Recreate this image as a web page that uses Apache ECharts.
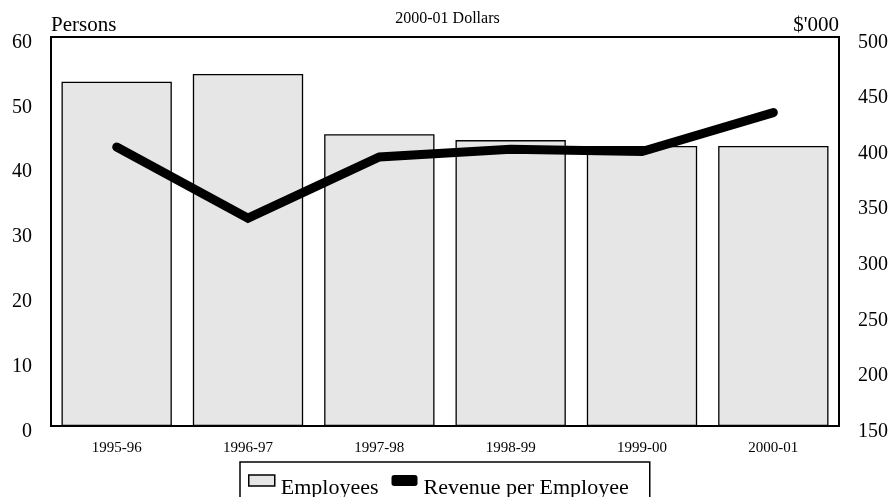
<!DOCTYPE html>
<html>
<head>
<meta charset="utf-8">
<script src="https://cdn.jsdelivr.net/npm/echarts@6/dist/echarts.min.js"></script>
<style>html,body{margin:0;padding:0;background:#fff}#c{width:895px;height:497px}</style>
</head>
<body>
<div id="c"></div>
<script>
const categories = ['1995-96','1996-97','1997-98','1998-99','1999-00','2000-01'];
const employees = [53.1, 54.3, 45.0, 44.1, 43.2, 43.2];
const revenuePerEmployee = [401, 337, 392, 399, 397, 432];
const leftTicks = {min: 0, max: 60, interval: 10};
const rightTicks = {min: 150, max: 500, interval: 50};

const serif = '"Liberation Serif", "Times New Roman", serif';
const chart = echarts.init(document.getElementById('c'));
chart.setOption({
  animation: false,
  backgroundColor: '#fff',
  title: {
    text: '2000-01 Dollars', left: 'center', top: 6,
    textStyle: {fontFamily: serif, fontSize: 16, fontWeight: 'normal', color: '#000'}
  },
  grid: {left: 51, right: 56, top: 37, bottom: 71, show: true, borderColor: '#000', borderWidth: 2, backgroundColor: 'transparent'},
  legend: {
    left: 240, top: 462, orient: 'horizontal',
    padding: [0, 21, 20, 8],
    borderColor: '#000', borderWidth: 1.5,
    itemWidth: 26, itemHeight: 11, itemGap: 13,
    formatter: '{t|{name}}',
    textStyle: {
      fontFamily: serif, fontSize: 22, color: '#000',
      rich: {t: {fontFamily: serif, fontSize: 22, color: '#000', lineHeight: 10, padding: [15, 0, 0, 1]}}
    },
    data: [
      {name: 'Employees', icon: 'rect', itemStyle: {color: '#e6e6e6', borderColor: '#000', borderWidth: 1.5}},
      {name: 'Revenue per Employee', icon: 'roundRect', itemStyle: {color: '#000', borderColor: '#000', borderWidth: 0}}
    ]
  },
  xAxis: {
    type: 'category', data: categories,
    axisLine: {lineStyle: {color: '#000', width: 2}},
    axisTick: {show: false},
    axisLabel: {fontFamily: serif, fontSize: 15, color: '#000', margin: 15}
  },
  yAxis: [
    {
      type: 'value', min: leftTicks.min, max: leftTicks.max, interval: leftTicks.interval,
      name: 'Persons', nameLocation: 'end', nameGap: 1,
      nameTextStyle: {fontFamily: serif, fontSize: 21, color: '#000', align: 'left', verticalAlign: 'bottom'},
      axisLine: {show: true, lineStyle: {color: '#000', width: 2}},
      axisTick: {show: false}, splitLine: {show: false},
      axisLabel: {fontFamily: serif, fontSize: 20, color: '#000', margin: 19, verticalAlign: 'top', lineHeight: 11}
    },
    {
      type: 'value', min: rightTicks.min, max: rightTicks.max, interval: rightTicks.interval,
      name: "$'000", nameLocation: 'end', nameGap: 1,
      nameTextStyle: {fontFamily: serif, fontSize: 21, color: '#000', align: 'right', verticalAlign: 'bottom'},
      axisLine: {show: true, lineStyle: {color: '#000', width: 2}},
      axisTick: {show: false}, splitLine: {show: false},
      axisLabel: {fontFamily: serif, fontSize: 20, color: '#000', margin: 19, verticalAlign: 'top', lineHeight: 11}
    }
  ],
  series: [
    {
      name: 'Employees', type: 'bar', yAxisIndex: 0, data: employees,
      barCategoryGap: '16%',
      itemStyle: {color: '#e6e6e6', borderColor: '#000', borderWidth: 1.3}
    },
    {
      name: 'Revenue per Employee', type: 'line', yAxisIndex: 1, data: revenuePerEmployee,
      symbol: 'none',
      lineStyle: {color: '#000', width: 9, cap: 'round', join: 'miter'},
      itemStyle: {color: '#000'}
    }
  ]
});
</script>
</body>
</html>
